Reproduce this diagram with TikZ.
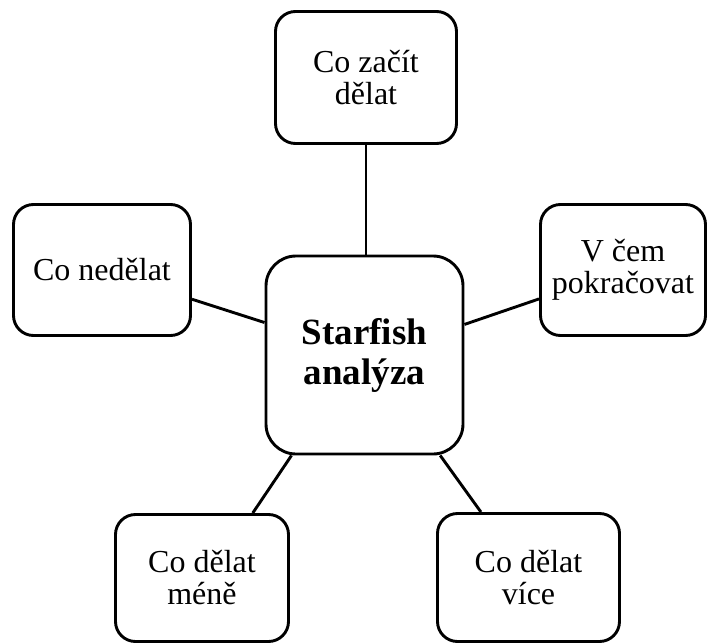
\documentclass[tikz,border=0pt]{standalone}
\usepackage{fontspec}
\setmainfont{Liberation Serif}
\begin{document}
\begin{tikzpicture}[x=1pt,y=-1pt,
  box/.style={draw=black,line width=2.9pt,rounded corners=20pt,align=center,
    inner sep=0pt,font=\fontsize{32}{32}\selectfont},
  hub/.style={box,rounded corners=30pt,font=\fontsize{37}{40}\selectfont\bfseries},
  link/.style={line width=2.9pt}]
\useasboundingbox (0,0) rectangle (707,643);

\node[hub,minimum width=197pt,minimum height=198pt] (center) at (364.5,355) {Starfish\\analýza};

\node[box,minimum width=181pt,minimum height=132pt] (top) at (366,77.5) {Co začít\\dělat};
\node[box,minimum width=177pt,minimum height=131pt] (left) at (102,270) {Co nedělat};
\node[box,minimum width=165pt,minimum height=131pt] (right) at (623,270) {V čem\\pokračovat};
\node[box,minimum width=173pt,minimum height=127pt] (bl) at (202,578) {Co dělat\\méně};
\node[box,minimum width=182pt,minimum height=128pt] (br) at (528.5,577.5) {Co dělat\\více};

\draw[link] (top.south) -- (top.south |- center.north);
\draw[link] (left.-18.6) -- (center.162.2);
\draw[link] (right.-161.4) -- (center.17.7);
\draw[link] (bl.52) -- (center.234.4);
\draw[link] (br.126.9) -- (center.-53.7);
\end{tikzpicture}
\end{document}
